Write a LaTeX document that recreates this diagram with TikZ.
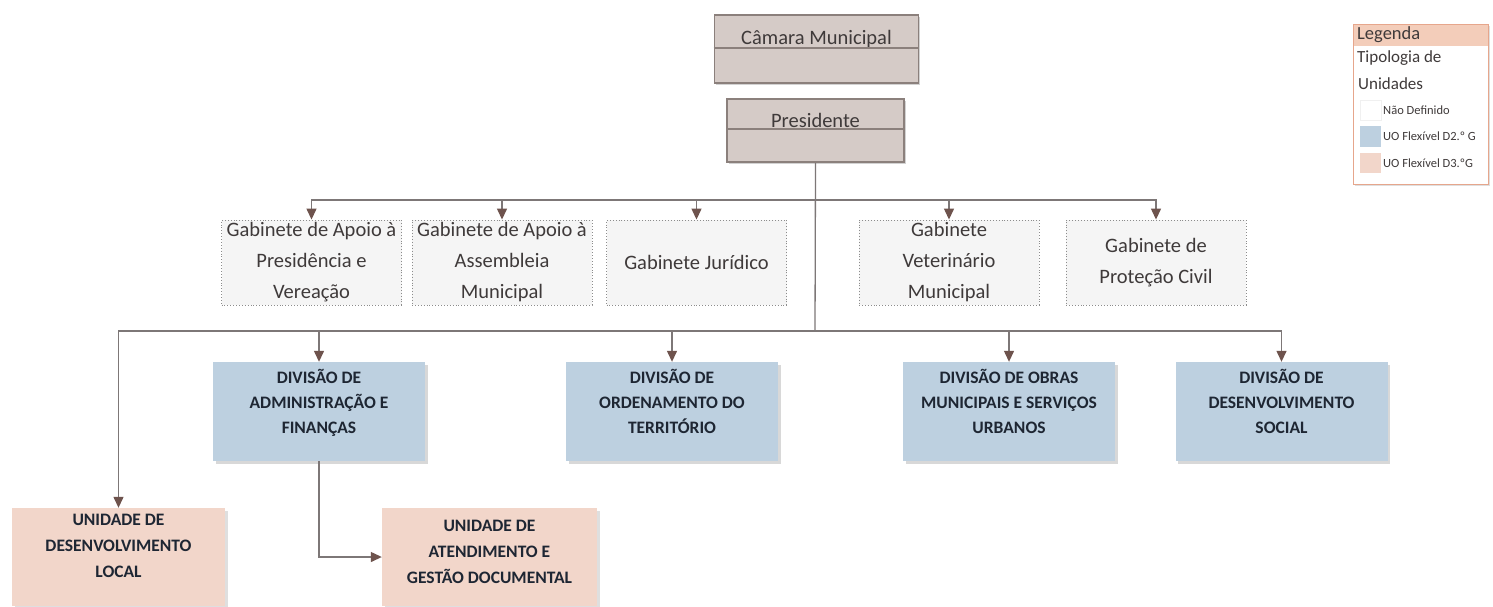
\documentclass[tikz,border=0pt]{standalone}
\usepackage{fontspec}
\setmainfont{Carlito}
\usetikzlibrary{arrows.meta,shadows}
\definecolor{linec}{HTML}{7D7777}
\definecolor{arrc}{HTML}{6E534D}
\definecolor{topfill}{HTML}{D5CBC7}
\definecolor{topdraw}{HTML}{8B807C}
\definecolor{gabfill}{HTML}{F5F5F5}
\definecolor{gabdraw}{HTML}{8C8C8C}
\definecolor{bluefill}{HTML}{BDD0E0}
\definecolor{pinkfill}{HTML}{F2D6CA}
\definecolor{legdraw}{HTML}{E6A68C}
\definecolor{leghead}{HTML}{F3CDBA}
\definecolor{textc}{HTML}{3F3A3A}
\definecolor{divtext}{HTML}{1E2633}
\begin{document}
\begin{tikzpicture}[x=1pt,y=-1pt,
  topbox/.style={draw=topdraw,line width=1.8pt,fill=topfill,text=textc,
     font=\fontsize{20.5}{24}\selectfont,inner sep=0pt,text height=14pt,
     drop shadow={shadow xshift=1.5pt,shadow yshift=-1.5pt,opacity=.35}},
  gabbox/.style={draw=gabdraw,dotted,line width=0.9pt,fill=gabfill,text=textc,
     font=\fontsize{20.5}{31}\selectfont,align=center,inner sep=0pt,
     minimum width=180pt,minimum height=85pt},
  divbox/.style={fill=bluefill,text=divtext,
     font=\fontsize{17.5}{25}\selectfont\bfseries,align=center,inner sep=0pt,
     minimum width=212pt,minimum height=99pt,text depth=21pt,
     drop shadow={shadow xshift=2.5pt,shadow yshift=-2.5pt,opacity=.3}},
  unitbox/.style={fill=pinkfill,text=divtext,
     font=\fontsize{17.5}{26}\selectfont\bfseries,align=center,inner sep=0pt,
     minimum height=98pt,
     drop shadow={shadow xshift=2.5pt,shadow yshift=-2.5pt,opacity=.25}},
  conn/.style={draw=linec,line width=1.3pt},
  arr/.style={conn,-{Triangle[length=11pt,width=10pt,fill=arrc,color=arrc]}},
  legtext/.style={anchor=west,inner sep=0pt,text=textc},
]
\useasboundingbox[fill=white] (0,0) rectangle (1493,606);

% top boxes
\node[topbox,minimum width=204pt,minimum height=68pt,text depth=24pt] (cam) at (816.5,49) {Câmara Municipal};
\draw[topdraw,line width=1.3pt] (cam.west |- 0,48) -- (cam.east |- 0,48);
\node[topbox,minimum width=177pt,minimum height=63pt,text depth=21pt] (pres) at (815.5,130.5) {Presidente};
\draw[topdraw,line width=1.3pt] (pres.west |- 0,129) -- (pres.east |- 0,129);

% gabinetes
\node[gabbox] (g1) at (311.5,262.5) {Gabinete de Apoio à\\Presidência e\\Vereação};
\node[gabbox] (g2) at (502,262.5) {Gabinete de Apoio à\\Assembleia\\Municipal};
\node[gabbox] (g3) at (696.5,262.5) {Gabinete Jurídico};
\node[gabbox] (g4) at (949,262.5) {Gabinete\\Veterinário\\Municipal};
\node[gabbox] (g5) at (1156,262.5) {Gabinete de\\Proteção Civil};

% divisions
\node[divbox] (d1) at (319,411.5) {DIVISÃO DE\\ADMINISTRAÇÃO E\\FINANÇAS};
\node[divbox] (d2) at (672,411.5) {DIVISÃO DE\\ORDENAMENTO DO\\TERRITÓRIO};
\node[divbox] (d3) at (1009,411.5) {DIVISÃO DE OBRAS\\MUNICIPAIS E SERVIÇOS\\URBANOS};
\node[divbox] (d4) at (1281.5,411.5) {DIVISÃO DE\\DESENVOLVIMENTO\\SOCIAL};

% units
\node[unitbox,minimum width=213pt,text depth=22pt] (u1) at (118.5,557) {UNIDADE DE\\DESENVOLVIMENTO\\LOCAL};
\node[unitbox,minimum width=215pt,text depth=10pt] (u2) at (489.5,557) {UNIDADE DE\\ATENDIMENTO E\\GESTÃO DOCUMENTAL};

% connectors
\coordinate (bus1) at (815,200);
\coordinate (bus2) at (815,331);
\draw[conn] (pres.south) -- (bus2);
\draw[arr] (bus1) -| (g1.north);
\draw[arr] (bus1) -| (g2.north);
\draw[arr] (bus1) -| (g3.north);
\draw[arr] (bus1) -| (g4.north);
\draw[arr] (bus1) -| (g5.north);
\draw[arr] (bus2) -| (u1.north);
\draw[arr] (bus2) -| (d1.north);
\draw[arr] (bus2) -| (d2.north);
\draw[arr] (bus2) -| (d3.north);
\draw[arr] (bus2) -| (d4.north);
\draw[arr] (d1.south) |- (u2.west);

% legend
\node[draw=legdraw,line width=1pt,fill=white,minimum width=135pt,minimum height=160pt,inner sep=0pt,
      drop shadow={shadow xshift=2pt,shadow yshift=-2pt,opacity=.25}] (leg) at (1420.5,104) {};
\node[fill=leghead,minimum width=134pt,minimum height=21pt,inner sep=0pt] (leghd) at (1420.5,35) {};
\node[legtext,font=\fontsize{18.5}{20}\selectfont] (legt) at (1357,35) {Legenda};
\node[legtext,font=\fontsize{17}{20}\selectfont] (tip1) at (1357,58) {Tipologia de};
\node[legtext,font=\fontsize{17}{20}\selectfont] (tip2) at (1358,84) {Unidades};
\node[fill=white,draw=gray!12,minimum width=21pt,minimum height=20pt,inner sep=0pt] (s1) at (1370.5,110) {};
\node[fill=bluefill,minimum width=21pt,minimum height=21pt,inner sep=0pt] (s2) at (1370.5,136.5) {};
\node[fill=pinkfill,minimum width=21pt,minimum height=20pt,inner sep=0pt] (s3) at (1370.5,163) {};
\node[legtext,font=\fontsize{12.5}{14}\selectfont] (l1) at (1383,110) {Não Definido};
\node[legtext,font=\fontsize{12.5}{14}\selectfont] (l2) at (1383,136) {UO Flexível D2.º G};
\node[legtext,font=\fontsize{12.5}{14}\selectfont] (l3) at (1383,163) {UO Flexível D3.ºG};
\end{tikzpicture}
\end{document}
